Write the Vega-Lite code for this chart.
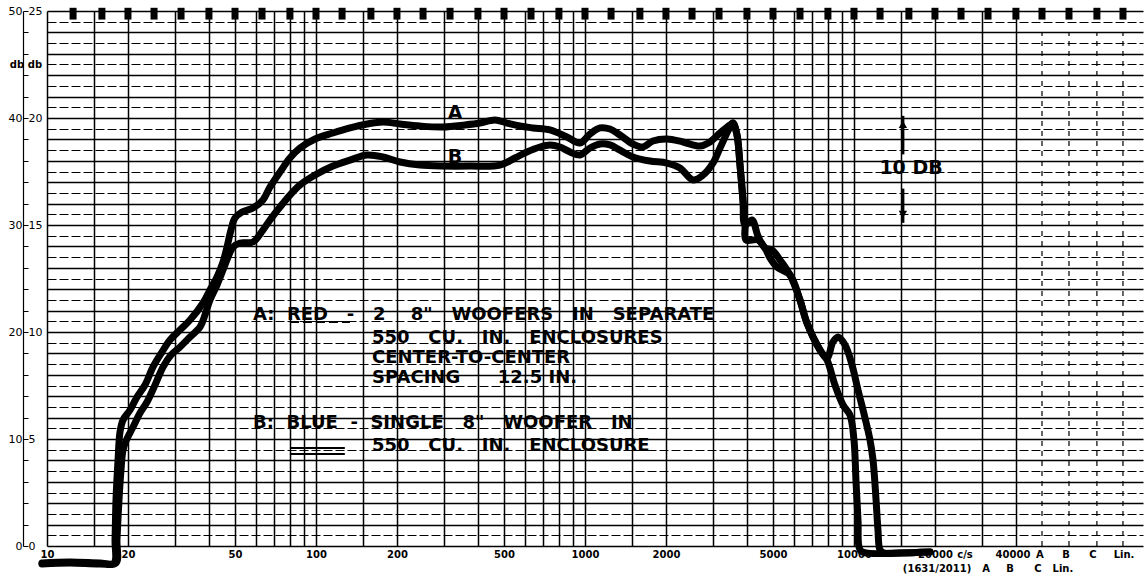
{
  "$schema": "https://vega.github.io/schema/vega-lite/v6.json",
  "width": 1096,
  "height": 535,
  "autosize": {"type": "none"},
  "padding": {"left": 47, "top": 11, "right": 4, "bottom": 34},
  "background": "white",
  "config": {"view": {"stroke": null}},
  "datasets": {
    "curves": [
      {"s":"A","i":1,"f":9.58,"db":-1.59},{"s":"A","i":2,"f":12.18,"db":-1.5},{"s":"A","i":3,"f":15.74,"db":-1.59},{"s":"A","i":4,"f":17.75,"db":-1.59},
      {"s":"A","i":5,"f":17.9,"db":0.56},{"s":"A","i":6,"f":18.05,"db":4.3},{"s":"A","i":7,"f":18.37,"db":8.04},{"s":"A","i":8,"f":18.68,"db":10.65},
      {"s":"A","i":9,"f":19.17,"db":11.78},{"s":"A","i":10,"f":20.35,"db":12.71},{"s":"A","i":11,"f":21.61,"db":13.93},{"s":"A","i":12,"f":23.14,"db":15.05},
      {"s":"A","i":13,"f":24.78,"db":16.73},{"s":"A","i":14,"f":26.76,"db":18.13},{"s":"A","i":15,"f":28.66,"db":19.25},{"s":"A","i":16,"f":31.22,"db":20.19},
      {"s":"A","i":17,"f":34.01,"db":21.12},{"s":"A","i":18,"f":38.02,"db":22.71},{"s":"A","i":19,"f":40.36,"db":23.93},{"s":"A","i":20,"f":42.85,"db":25.14},
      {"s":"A","i":21,"f":45.1,"db":26.54},{"s":"A","i":22,"f":46.7,"db":27.94},{"s":"A","i":23,"f":48.3,"db":29.53},{"s":"A","i":24,"f":49.97,"db":30.65},
      {"s":"A","i":25,"f":53.1,"db":31.21},{"s":"A","i":26,"f":58.3,"db":31.59},{"s":"A","i":27,"f":63.5,"db":32.34},{"s":"A","i":28,"f":67.45,"db":33.55},
      {"s":"A","i":29,"f":73.5,"db":34.95},{"s":"A","i":30,"f":80.0,"db":36.26},{"s":"A","i":31,"f":87.2,"db":37.2},{"s":"A","i":32,"f":99.2,"db":38.04},
      {"s":"A","i":33,"f":115.6,"db":38.6},{"s":"A","i":34,"f":133.8,"db":39.07},{"s":"A","i":35,"f":154.7,"db":39.44},{"s":"A","i":36,"f":177.5,"db":39.63},
      {"s":"A","i":37,"f":205.3,"db":39.44},{"s":"A","i":38,"f":243.6,"db":39.25},{"s":"A","i":39,"f":296.5,"db":39.16},{"s":"A","i":40,"f":358,"db":39.35},
      {"s":"A","i":41,"f":407,"db":39.53},{"s":"A","i":42,"f":462.7,"db":39.81},{"s":"A","i":43,"f":513,"db":39.53},{"s":"A","i":44,"f":573,"db":39.25},
      {"s":"A","i":45,"f":641,"db":39.07},{"s":"A","i":46,"f":741,"db":38.88},{"s":"A","i":47,"f":857,"db":38.22},{"s":"A","i":48,"f":958,"db":37.66},
      {"s":"A","i":49,"f":1044,"db":38.5},{"s":"A","i":50,"f":1137,"db":39.07},{"s":"A","i":51,"f":1239,"db":38.97},{"s":"A","i":52,"f":1349,"db":38.41},
      {"s":"A","i":53,"f":1508,"db":37.57},{"s":"A","i":54,"f":1643,"db":37.29},{"s":"A","i":55,"f":1789,"db":37.85},{"s":"A","i":56,"f":2017,"db":38.04},
      {"s":"A","i":57,"f":2314,"db":37.76},{"s":"A","i":58,"f":2677,"db":37.38},{"s":"A","i":59,"f":2915,"db":37.76},{"s":"A","i":60,"f":3177,"db":38.6},
      {"s":"A","i":61,"f":3461,"db":39.35},{"s":"A","i":62,"f":3550,"db":39.53},{"s":"A","i":63,"f":3674,"db":38.41},{"s":"A","i":64,"f":3770,"db":35.6},
      {"s":"A","i":65,"f":3866,"db":32.34},{"s":"A","i":66,"f":3936,"db":30.0},{"s":"A","i":67,"f":4178,"db":30.47},{"s":"A","i":68,"f":4397,"db":28.97},
      {"s":"A","i":69,"f":4668,"db":27.85},{"s":"A","i":70,"f":4957,"db":27.66},{"s":"A","i":71,"f":5310,"db":26.73},{"s":"A","i":72,"f":5783,"db":25.33},
      {"s":"A","i":73,"f":6299,"db":22.99},{"s":"A","i":74,"f":6686,"db":20.84},{"s":"A","i":75,"f":7476,"db":18.32},{"s":"A","i":76,"f":7940,"db":17.57},
      {"s":"A","i":77,"f":8356,"db":19.07},{"s":"A","i":78,"f":8723,"db":19.53},{"s":"A","i":79,"f":9265,"db":18.79},{"s":"A","i":80,"f":9835,"db":16.92},
      {"s":"A","i":81,"f":10350,"db":14.58},{"s":"A","i":82,"f":10990,"db":11.96},{"s":"A","i":83,"f":11470,"db":9.91},{"s":"A","i":84,"f":11770,"db":8.04},
      {"s":"A","i":85,"f":12080,"db":4.3},{"s":"A","i":86,"f":12280,"db":1.5},{"s":"A","i":87,"f":12500,"db":-0.37},{"s":"A","i":88,"f":12930,"db":-0.65},
      {"s":"A","i":89,"f":14830,"db":-0.65},{"s":"A","i":90,"f":19180,"db":-0.56},
      {"s":"B","i":1,"f":9.58,"db":-1.68},{"s":"B","i":2,"f":12.18,"db":-1.59},{"s":"B","i":3,"f":15.74,"db":-1.68},{"s":"B","i":4,"f":18.05,"db":-1.59},
      {"s":"B","i":5,"f":18.2,"db":0.56},{"s":"B","i":6,"f":18.52,"db":4.3},{"s":"B","i":7,"f":18.84,"db":7.1},{"s":"B","i":8,"f":19.17,"db":8.97},
      {"s":"B","i":9,"f":19.66,"db":9.81},{"s":"B","i":10,"f":20.88,"db":11.12},{"s":"B","i":11,"f":22.17,"db":12.43},{"s":"B","i":12,"f":23.54,"db":13.46},
      {"s":"B","i":13,"f":25.21,"db":15.05},{"s":"B","i":14,"f":27.0,"db":16.73},{"s":"B","i":15,"f":28.9,"db":17.85},{"s":"B","i":16,"f":31.22,"db":18.6},
      {"s":"B","i":17,"f":34.01,"db":19.53},{"s":"B","i":18,"f":37.06,"db":20.47},{"s":"B","i":19,"f":38.67,"db":21.59},{"s":"B","i":20,"f":40.36,"db":22.99},
      {"s":"B","i":21,"f":42.85,"db":24.39},{"s":"B","i":22,"f":45.1,"db":25.79},{"s":"B","i":23,"f":47.1,"db":27.0},{"s":"B","i":24,"f":49.14,"db":27.94},
      {"s":"B","i":25,"f":52.2,"db":28.32},{"s":"B","i":26,"f":58.3,"db":28.41},{"s":"B","i":27,"f":63.5,"db":29.53},{"s":"B","i":28,"f":67.45,"db":30.47},
      {"s":"B","i":29,"f":73.5,"db":31.68},{"s":"B","i":30,"f":80.0,"db":32.8},{"s":"B","i":31,"f":87.2,"db":33.74},{"s":"B","i":32,"f":99.2,"db":34.67},
      {"s":"B","i":33,"f":115.6,"db":35.51},{"s":"B","i":34,"f":133.8,"db":36.07},{"s":"B","i":35,"f":154.7,"db":36.54},{"s":"B","i":36,"f":177.5,"db":36.36},
      {"s":"B","i":37,"f":205.3,"db":35.89},{"s":"B","i":38,"f":243.6,"db":35.6},{"s":"B","i":39,"f":296.5,"db":35.51},{"s":"B","i":40,"f":373.6,"db":35.51},
      {"s":"B","i":41,"f":483,"db":35.6},{"s":"B","i":42,"f":549,"db":36.26},{"s":"B","i":43,"f":608,"db":36.82},{"s":"B","i":44,"f":680,"db":37.29},
      {"s":"B","i":45,"f":741,"db":37.48},{"s":"B","i":46,"f":807,"db":37.29},{"s":"B","i":47,"f":880,"db":36.82},{"s":"B","i":48,"f":958,"db":36.54},
      {"s":"B","i":49,"f":1044,"db":37.2},{"s":"B","i":50,"f":1137,"db":37.57},{"s":"B","i":51,"f":1239,"db":37.48},{"s":"B","i":52,"f":1349,"db":37.0},
      {"s":"B","i":53,"f":1508,"db":36.36},{"s":"B","i":54,"f":1744,"db":35.98},{"s":"B","i":55,"f":2017,"db":35.79},{"s":"B","i":56,"f":2254,"db":35.33},
      {"s":"B","i":57,"f":2520,"db":34.21},{"s":"B","i":58,"f":2746,"db":34.67},{"s":"B","i":59,"f":2990,"db":35.79},{"s":"B","i":60,"f":3177,"db":37.2},
      {"s":"B","i":61,"f":3461,"db":39.16},{"s":"B","i":62,"f":3550,"db":39.53},{"s":"B","i":63,"f":3674,"db":38.41},{"s":"B","i":64,"f":3770,"db":35.6},
      {"s":"B","i":65,"f":3866,"db":32.34},{"s":"B","i":66,"f":3936,"db":30.0},{"s":"B","i":67,"f":3967,"db":28.6},{"s":"B","i":68,"f":4397,"db":28.6},
      {"s":"B","i":69,"f":4668,"db":27.85},{"s":"B","i":70,"f":4872,"db":26.92},{"s":"B","i":71,"f":5173,"db":26.07},{"s":"B","i":72,"f":5783,"db":25.33},
      {"s":"B","i":73,"f":6299,"db":22.99},{"s":"B","i":74,"f":6686,"db":20.84},{"s":"B","i":75,"f":7476,"db":18.32},{"s":"B","i":76,"f":7940,"db":17.38},
      {"s":"B","i":77,"f":8497,"db":15.05},{"s":"B","i":78,"f":9107,"db":13.18},{"s":"B","i":79,"f":9664,"db":12.24},{"s":"B","i":80,"f":10000,"db":9.91},
      {"s":"B","i":81,"f":10170,"db":6.17},{"s":"B","i":82,"f":10350,"db":2.43},{"s":"B","i":83,"f":10530,"db":-0.37},{"s":"B","i":84,"f":11080,"db":-0.65},
      {"s":"B","i":85,"f":14830,"db":-0.65},{"s":"B","i":86,"f":19180,"db":-0.56}
    ],
    "marks": [
      {"f":12.5},{"f":16},{"f":20},{"f":25},{"f":31.5},{"f":40},{"f":50},{"f":63},{"f":80},{"f":100},
      {"f":125},{"f":160},{"f":200},{"f":250},{"f":315},{"f":400},{"f":500},{"f":630},{"f":800},{"f":1000},
      {"f":1250},{"f":1600},{"f":2000},{"f":2500},{"f":3150},{"f":4000},{"f":5000},{"f":6300},{"f":8000},{"f":10000},
      {"f":12500},{"f":16000},{"f":20000},{"f":25000},{"f":31500},{"f":40000},{"f":50000},{"f":63000},{"f":80000},{"f":100000}
    ],
    "cols": [{"f":50000},{"f":63000},{"f":80000},{"f":100000}],
    "notes": [
      {"f":58.3,"db":21.59,"t":"A:\u00a0\u00a0RED\u00a0\u00a0\u00a0-\u00a0\u00a0\u00a02\u00a0\u00a0\u00a0\u00a08\"\u00a0\u00a0\u00a0WOOFERS\u00a0\u00a0\u00a0IN\u00a0\u00a0\u00a0SEPARATE"},
      {"f":161.5,"db":19.44,"t":"550\u00a0\u00a0\u00a0CU.\u00a0\u00a0\u00a0IN.\u00a0\u00a0\u00a0ENCLOSURES"},
      {"f":161.5,"db":17.57,"t":"CENTER-TO-CENTER"},
      {"f":161.5,"db":15.7,"t":"SPACING\u00a0\u00a0\u00a0\u00a0\u00a0\u00a012.5\u00a0IN."},
      {"f":58.3,"db":11.5,"t":"B:\u00a0\u00a0BLUE\u00a0\u00a0-\u00a0\u00a0SINGLE\u00a0\u00a0\u00a08\"\u00a0\u00a0\u00a0WOOFER\u00a0\u00a0\u00a0IN"},
      {"f":161.5,"db":9.35,"t":"550\u00a0\u00a0\u00a0CU.\u00a0\u00a0\u00a0IN.\u00a0\u00a0\u00a0ENCLOSURE"}
    ],
    "big": [
      {"f":16300,"db":35.3,"t":"10\u00a0DB"},
      {"f":328.7,"db":40.47,"t":"A"},
      {"f":328.7,"db":36.36,"t":"B"}
    ],
    "small": [
      {"f":25860,"db":-0.84,"t":"c/s"},{"f":39000,"db":-0.84,"t":"40000"},{"f":49100,"db":-0.84,"t":"A"},{"f":61400,"db":-0.84,"t":"B"},{"f":77300,"db":-0.84,"t":"C"},{"f":100900,"db":-0.84,"t":"Lin."},
      {"f":20370,"db":-2.15,"t":"(1631/2011)"},{"f":30970,"db":-2.15,"t":"A"},{"f":38000,"db":-2.15,"t":"B"},{"f":48300,"db":-2.15,"t":"C"},{"f":59800,"db":-2.15,"t":"Lin."},
      {"f":7.73,"db":44.95,"t":"db"},{"f":9.02,"db":44.95,"t":"db"}
    ],
    "arrows": [{"f":15200,"y1":40.2,"y2":36.6},{"f":15200,"y1":33.4,"y2":30.2}],
    "heads": [{"f":15200,"db":39.4,"d":"up"},{"f":15200,"db":31.0,"d":"down"}],
    "under": [
      {"f1":80,"f2":133.7,"db":20.93,"k":"dash"},
      {"f1":80,"f2":128,"db":9.16,"k":"solid"},
      {"f1":80,"f2":128,"db":8.6,"k":"solid"}
    ]
  },
  "layer": [
    {
      "data": {"name": "curves"},
      "mark": {"type": "line", "stroke": "#000", "strokeWidth": 7, "strokeCap": "round", "strokeJoin": "round", "interpolate": "catmull-rom"},
      "encoding": {
        "x": {
          "field": "f", "type": "quantitative",
          "scale": {"type": "log", "domain": [10, 118700], "nice": false},
          "axis": {
            "orient": "bottom",
            "values": [10,15,20,30,40,50,60,70,80,90,100,150,200,300,400,500,600,700,800,900,1000,1500,2000,3000,4000,5000,6000,7000,8000,9000,10000,15000,20000,30000,40000],
            "labelExpr": "indexof([10,20,50,100,200,500,1000,2000,5000,10000,20000], datum.value) >= 0 ? format(datum.value, 'd') : ''",
            "grid": true, "gridColor": "#000", "gridWidth": 1.5, "gridOpacity": 1,
            "domain": false, "ticks": false, "labelPadding": 3,
            "labelFont": "DejaVu Sans", "labelFontWeight": "bold", "labelFontSize": 10, "labelColor": "#000",
            "labelOverlap": false, "labelBound": false, "labelFlush": false, "title": null
          }
        },
        "y": {
          "field": "db", "type": "quantitative",
          "scale": {"domain": [0, 50], "nice": false, "zero": false},
          "axis": {
            "values": [0,1,2,3,4,5,6,7,8,9,10,11,12,13,14,15,16,17,18,19,20,21,22,23,24,25,26,27,28,29,30,31,32,33,34,35,36,37,38,39,40,41,42,43,44,45,46,47,48,49,50],
            "grid": true, "gridColor": "#000", "gridOpacity": 1,
            "gridWidth": {"condition": {"test": "datum.value % 2 == 1", "value": 1}, "value": 1.6},
            "gridDash": {"condition": {"test": "datum.value % 2 == 1", "value": [9, 3]}, "value": []},
            "domain": true, "domainColor": "#000", "domainWidth": 1.2, "offset": 24,
            "ticks": true, "tickColor": "#000", "tickSize": -5,
            "tickOpacity": {"condition": {"test": "datum.value % 2 == 1", "value": 0}, "value": 1},
            "labelExpr": "datum.value % 10 == 0 ? datum.value : ''",
            "labelPadding": 6, "labelFontSize": 11, "labelFont": "DejaVu Sans", "labelColor": "#000",
            "labelOverlap": false, "labelBound": false, "labelFlush": false, "title": null
          }
        },
        "detail": {"field": "s"},
        "order": {"field": "i", "type": "quantitative"}
      }
    },
    {
      "data": {"name": "marks"},
      "mark": {"type": "rule", "stroke": "#000", "strokeWidth": 7},
      "encoding": {
        "x": {"field": "f", "type": "quantitative", "axis": null},
        "y": {
          "datum": 50.3, "type": "quantitative",
          "axis": {
            "orient": "left", "values": [0, 10, 20, 30, 40, 50],
            "labelExpr": "datum.value / 2", "offset": 24,
            "domain": false, "ticks": false, "grid": false,
            "labelAlign": "left", "labelPadding": -5, "labelFontSize": 11, "labelFont": "DejaVu Sans", "labelColor": "#000",
            "labelOverlap": false, "labelBound": false, "labelFlush": false, "title": null
          }
        },
        "y2": {"datum": 49.2}
      }
    },
    {
      "data": {"name": "cols"},
      "mark": {"type": "rule", "stroke": "#000", "strokeWidth": 1.2, "strokeDash": [5, 5]},
      "encoding": {
        "x": {"field": "f", "type": "quantitative", "axis": null},
        "y": {"datum": 0, "type": "quantitative", "axis": null},
        "y2": {"datum": 48}
      }
    },
    {
      "data": {"name": "notes"},
      "mark": {"type": "text", "align": "left", "baseline": "middle", "font": "DejaVu Sans", "fontWeight": "bold", "fontSize": 18, "color": "#000"},
      "encoding": {
        "x": {"field": "f", "type": "quantitative", "axis": null},
        "y": {"field": "db", "type": "quantitative", "axis": null},
        "text": {"field": "t"}
      }
    },
    {
      "data": {"name": "big"},
      "mark": {"type": "text", "align": "center", "baseline": "middle", "font": "DejaVu Sans", "fontWeight": "bold", "fontSize": 19, "color": "#000"},
      "encoding": {
        "x": {"field": "f", "type": "quantitative", "axis": null},
        "y": {"field": "db", "type": "quantitative", "axis": null},
        "text": {"field": "t"}
      }
    },
    {
      "data": {"name": "small"},
      "mark": {"type": "text", "align": "center", "baseline": "middle", "font": "DejaVu Sans", "fontWeight": "bold", "fontSize": 10, "color": "#000"},
      "encoding": {
        "x": {"field": "f", "type": "quantitative", "axis": null},
        "y": {"field": "db", "type": "quantitative", "axis": null},
        "text": {"field": "t"}
      }
    },
    {
      "data": {"name": "arrows"},
      "mark": {"type": "rule", "stroke": "#000", "strokeWidth": 3},
      "encoding": {
        "x": {"field": "f", "type": "quantitative", "axis": null},
        "y": {"field": "y1", "type": "quantitative", "axis": null},
        "y2": {"field": "y2"}
      }
    },
    {
      "data": {"name": "heads"},
      "mark": {"type": "point", "filled": true, "color": "#000", "opacity": 1, "size": 70},
      "encoding": {
        "x": {"field": "f", "type": "quantitative", "axis": null},
        "y": {"field": "db", "type": "quantitative", "axis": null},
        "shape": {"field": "d", "type": "nominal", "scale": {"domain": ["up", "down"], "range": ["triangle-up", "triangle-down"]}, "legend": null}
      }
    },
    {
      "data": {"name": "under"},
      "mark": {"type": "rule", "stroke": "#000", "strokeWidth": 2},
      "encoding": {
        "x": {"field": "f1", "type": "quantitative", "axis": null},
        "x2": {"field": "f2"},
        "y": {"field": "db", "type": "quantitative", "axis": null},
        "strokeDash": {"field": "k", "type": "nominal", "scale": {"domain": ["dash", "solid"], "range": [[9, 4], [1, 0]]}, "legend": null}
      }
    }
  ],
  "resolve": {"axis": {"x": "independent", "y": "independent"}}
}
